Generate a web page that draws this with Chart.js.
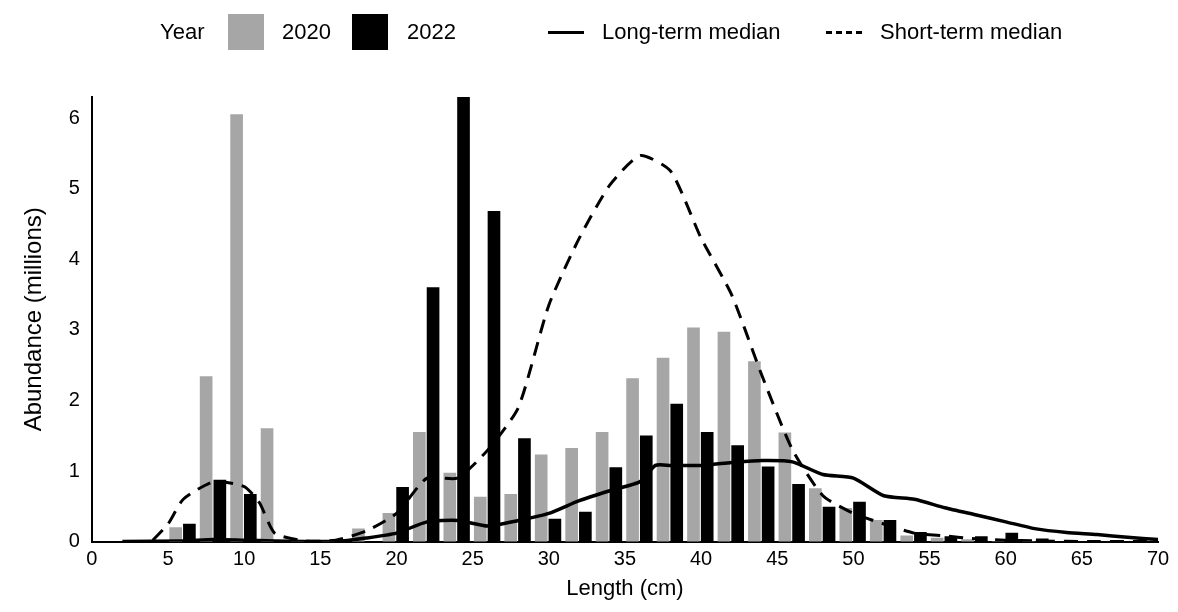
<!DOCTYPE html>
<html><head><meta charset="utf-8">
<script src="https://cdn.jsdelivr.net/npm/chart.js@4"></script>
<style>
body{margin:0;background:#fff;font-family:Arial,"Liberation Sans",sans-serif;}
#wrap{position:absolute;left:0;top:0;width:1178px;height:612px;}
#leg{position:absolute;top:14px;left:0;width:1178px;height:36px;font-size:22px;color:#000;}
.it{position:absolute;top:0;line-height:36px;}
.box{position:absolute;top:0;width:36px;height:36px;}
.ln{position:absolute;top:17px;width:36px;height:0;border-top:3px solid #000;}
</style></head><body>
<div id="wrap"><canvas id="c" width="1178" height="612"></canvas></div>
<div id="leg">
<span class="it" style="left:160px">Year</span>
<div class="box" style="left:228px;background:#a6a6a6"></div>
<span class="it" style="left:282px">2020</span>
<div class="box" style="left:352px;background:#000"></div>
<span class="it" style="left:407px">2022</span>
<div class="ln" style="left:548px"></div>
<span class="it" style="left:602px">Long-term median</span>
<div class="ln" style="left:826px;border-top:3px dashed #000;"></div>
<span class="it" style="left:880px">Short-term median</span>
</div>
<script>
const lengths=[6,8,10,12,14,16,18,20,22,24,26,28,30,32,34,36,38,40,42,44,46,48,50,52,54,56,58,60,62];
const abund2020=[0.2,2.34,6.05,1.6,0,0,0.18,0.4,1.55,0.97,0.63,0.67,1.23,1.32,1.55,2.31,2.6,3.03,2.97,2.55,1.54,0.75,0.47,0.3,0.08,0.05,0.03,0,0];
const abund2022=[0.25,0.87,0.67,0,0,0,0,0.77,3.6,6.35,4.68,1.46,0.32,0.42,1.05,1.5,1.95,1.55,1.36,1.06,0.81,0.49,0.56,0.3,0.13,0.07,0.07,0.12,0.04];
const longX=[2,6,8,10,12,14,16,18,20,22,24,26,28,30,32,34,36,37,38,40,42,44,46,48,50,52,54,56,58,60,62,64,66,68,70];
const longY=[0,0.01,0.03,0.02,0.01,0,0,0.05,0.12,0.28,0.3,0.22,0.3,0.4,0.58,0.72,0.85,1.08,1.08,1.08,1.12,1.15,1.13,0.95,0.9,0.65,0.6,0.48,0.38,0.28,0.18,0.13,0.1,0.06,0.03];
const shortX=[4,5,6,8,10,11,12,14,16,18,20,22,24,26,28,30,32,34,36,38,40,42,44,46,48,50,52,54,56,58,60,62,66,70];
const shortY=[0.02,0.25,0.6,0.85,0.78,0.55,0.12,0.01,0.02,0.15,0.4,0.9,0.9,1.3,1.9,3.35,4.3,5.05,5.47,5.25,4.3,3.5,2.35,1.3,0.65,0.4,0.25,0.12,0.08,0.04,0.02,0.01,0,0];
const yTicks=[0,1,2,3,4,5,6];
const pts=(xs,ys,dx)=>xs.map((x,i)=>({x:x+dx,y:ys[i]}));
new Chart(document.getElementById('c'),{
 data:{datasets:[
  {type:'line',data:pts(shortX,shortY,0),borderColor:'#000',borderWidth:3,borderDash:[14,9],pointRadius:0,tension:0.2,fill:false},
  {type:'line',data:pts(longX,longY,0),borderColor:'#000',borderWidth:3.5,pointRadius:0,tension:0.2,fill:false},
  {type:'bar',data:pts(lengths,abund2020,-0.5),backgroundColor:'#a6a6a6',barThickness:12,grouped:false},
  {type:'bar',data:pts(lengths,abund2022,0.4),backgroundColor:'#000',barThickness:12,grouped:false}
 ]},
 options:{responsive:false,animation:false,
  layout:{padding:{left:16,right:20,top:97,bottom:10}},
  plugins:{legend:{display:false},tooltip:{enabled:false}},
  scales:{
   x:{type:'linear',min:0,max:70,offset:false,grid:{display:false,drawTicks:true,tickLength:6,tickColor:'#000'},border:{color:'#000',width:2},
      ticks:{stepSize:5,autoSkip:false,color:'#000',font:{size:20,family:'Arial'},padding:0,maxRotation:0},
      title:{display:true,text:'Length (cm)',color:'#000',font:{size:22,family:'Arial'},padding:{top:4,bottom:0}}},
   y:{min:0,max:6.3,grid:{display:false,tickLength:6,tickColor:'#000'},border:{color:'#000',width:2},
      afterBuildTicks:s=>{s.ticks=yTicks.map(v=>({value:v}));},
      ticks:{autoSkip:false,color:'#000',font:{size:20,family:'Arial'},padding:6},
      title:{display:true,text:'Abundance (millions)',color:'#000',font:{size:24,family:'Arial'},padding:{bottom:14}}}
  }}
});
</script></body></html>
